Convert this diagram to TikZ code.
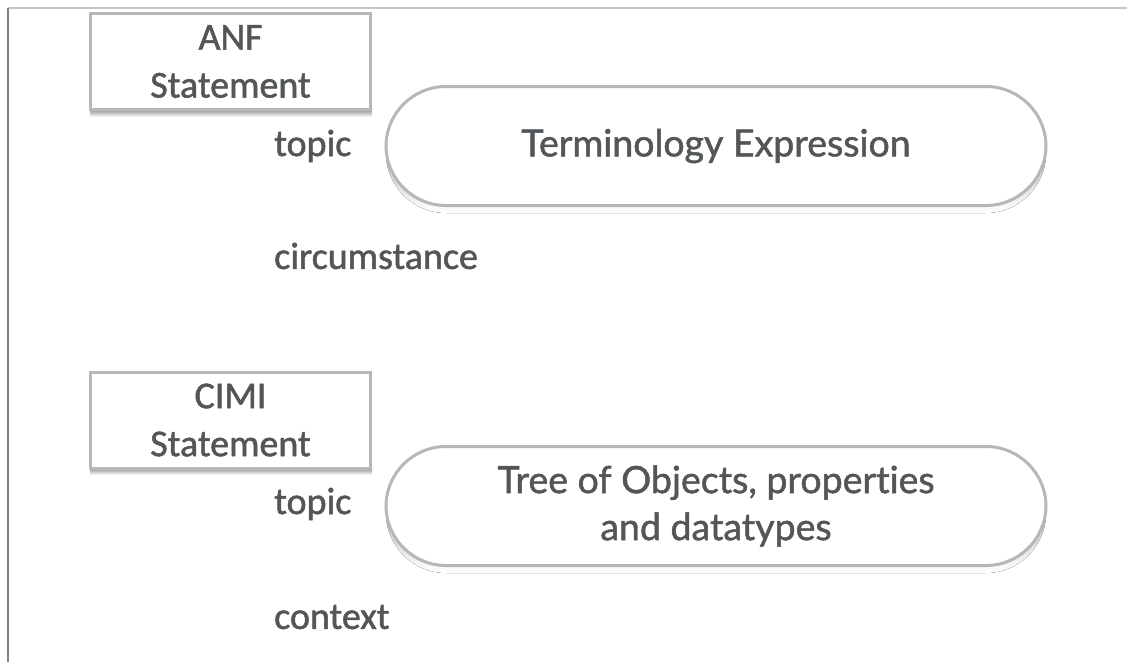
\documentclass[tikz,border=0pt]{standalone}
\usepackage{fontspec}
\setmainfont[FakeBold=1.3]{Carlito}
\newfontfamily\pillfont[FakeBold=1.3,Ligatures=NoCommon]{Lato}
\definecolor{txt}{HTML}{525659}
\definecolor{edge}{HTML}{B3B8BA}
\definecolor{shade}{HTML}{E4E6E7}
\begin{document}
\begin{tikzpicture}[x=1pt,y=-1pt,
  lbl/.style={anchor=west,inner sep=0pt,text=txt,font=\fontsize{38}{40}\selectfont},
  stmt/.style={draw=edge,line width=3pt,fill=white,minimum width=280pt,minimum height=96pt,
     inner sep=0pt,text=txt,align=center,font=\fontsize{38}{48}\selectfont},
  pill/.style={draw=edge,line width=3pt,fill=white,rounded corners=60pt,minimum width=660pt,
     minimum height=119pt,inner sep=0pt,text=txt,align=center,font=\pillfont\fontsize{37.5}{47}\selectfont}]
\useasboundingbox[fill=white] (0,0) rectangle (1127,662);
\draw[draw=black!22,line width=2pt] (8,8) -- (1127,8);
\draw[draw=black!50,line width=1.2pt] (8,8) -- (8,662);
% shadows
\fill[shade] (90,108) rectangle (372,117);
\fill[shade] (90,467) rectangle (372,475);
\fill[shade,rounded corners=60pt] (386,92) rectangle (1046,213);
\fill[shade,rounded corners=60pt] (386,452) rectangle (1046,573);
% statements
\node[stmt] (anf) at (230.5,61.5) {ANF\\Statement};
\node[stmt] (cimi) at (230.5,420) {CIMI\\Statement};
% pills
\node[pill] (term) at (716,146) {Terminology Expression};
\node[pill] (tree) at (716,506) {Tree of Objects, properties\\and datatypes};
% labels
\node[lbl] (topic1) at (274,146) {topic};
\node[lbl] (circ) at (274,256) {circumstance};
\node[lbl] (topic2) at (274,504) {topic};
\node[lbl] (ctx) at (274,617) {context};
\end{tikzpicture}
\end{document}
